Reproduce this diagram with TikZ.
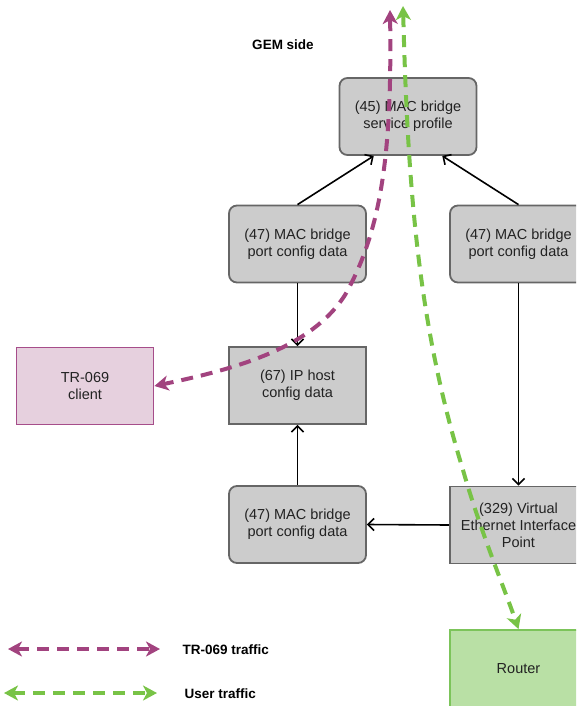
\documentclass[tikz,border=0pt]{standalone}
\usepackage{fontspec}
\setmainfont{Liberation Sans}
\usetikzlibrary{arrows.meta}
\definecolor{boxfill}{HTML}{CCCCCC}
\definecolor{boxline}{HTML}{666666}
\definecolor{tfill}{HTML}{E6D0DE}
\definecolor{tline}{HTML}{A64D8A}
\definecolor{purp}{HTML}{A2437F}
\definecolor{grn}{HTML}{78C346}
\definecolor{rfill}{HTML}{B9E0A5}
\definecolor{rline}{HTML}{7CC45A}
\definecolor{txt}{HTML}{222222}
\begin{document}
\begin{tikzpicture}[x=1pt,y=-1pt,
  boxbase/.style={line width=1.8pt, minimum width=137pt, minimum height=77pt,
    align=center, inner sep=0pt, text=txt, font=\fontsize{14.5}{17}\selectfont},
  rbox/.style={boxbase, draw=boxline, fill=boxfill, rounded corners=8pt},
  sbox/.style={boxbase, draw=boxline, fill=boxfill},
  tbox/.style={boxbase, draw=tline, fill=tfill},
  routerbox/.style={boxbase, draw=rline, fill=rfill},
  conn/.style={draw=black, line width=1.6pt, -{Straight Barb[length=6pt,width=12pt]}},
  traffic/.style={line width=4pt, dash pattern=on 12pt off 8pt, {Stealth[length=14pt,width=15pt,inset=4pt]}-{Stealth[length=14pt,width=15pt,inset=4pt]}},
  legtext/.style={anchor=west, text=black, font=\bfseries\fontsize{13.5}{16}\selectfont}
]
\useasboundingbox (0,0) rectangle (576,706);
\clip (0,0) rectangle (576,706);

\node[legtext, anchor=center] (gem) at (283,45) {GEM side};

\node[rbox] (svc) at (408,116.5) {(45) MAC bridge\\service profile};
\node[rbox] (l47) at (297.5,244) {(47) MAC bridge\\port config data};
\node[rbox] (r47) at (518.5,244) {(47) MAC bridge\\port config data};
\node[sbox] (iph) at (297.5,385.5) {(67) IP host\\config data};
\node[tbox] (client) at (85,386) {TR-069\\client};
\node[rbox] (b47) at (297.5,524.5) {(47) MAC bridge\\port config data};
\node[sbox] (veip) at (518.5,525) {(329) Virtual\\Ethernet Interface\\Point};
\node[routerbox] (router) at (518.5,668.5) {Router};

\draw[conn] (l47.north) -- (svc.229);
\draw[conn] (r47.north) -- (svc.311);
\draw[conn] (l47.south) -- (iph.north);
\draw[conn] (b47.north) -- (iph.south);
\draw[conn] (r47.south) -- (veip.north);
\draw[conn] (veip.west) -- (b47.east);

\coordinate (ptop) at (390,10);
\coordinate (gtop) at (403,6);
\draw[traffic, draw=purp] (ptop) .. controls (392,150) and (382,230) .. (345,295)
  .. controls (310,350) and (230,370) .. (client.east);
\draw[traffic, draw=grn] (gtop) .. controls (408,200) and (420,330) .. (463,470)
  .. controls (480,530) and (505,590) .. (router.north);

\coordinate (pl1) at (8,649);
\coordinate (pl2) at (160,649);
\coordinate (gl1) at (4,693);
\coordinate (gl2) at (157,693);
\draw[traffic, draw=purp] (pl1) -- (pl2);
\draw[traffic, draw=grn] (gl1) -- (gl2);
\node[legtext] (lt1) at (179,650) {TR-069 traffic};
\node[legtext] (lt2) at (181,694) {User traffic};
\end{tikzpicture}
\end{document}
